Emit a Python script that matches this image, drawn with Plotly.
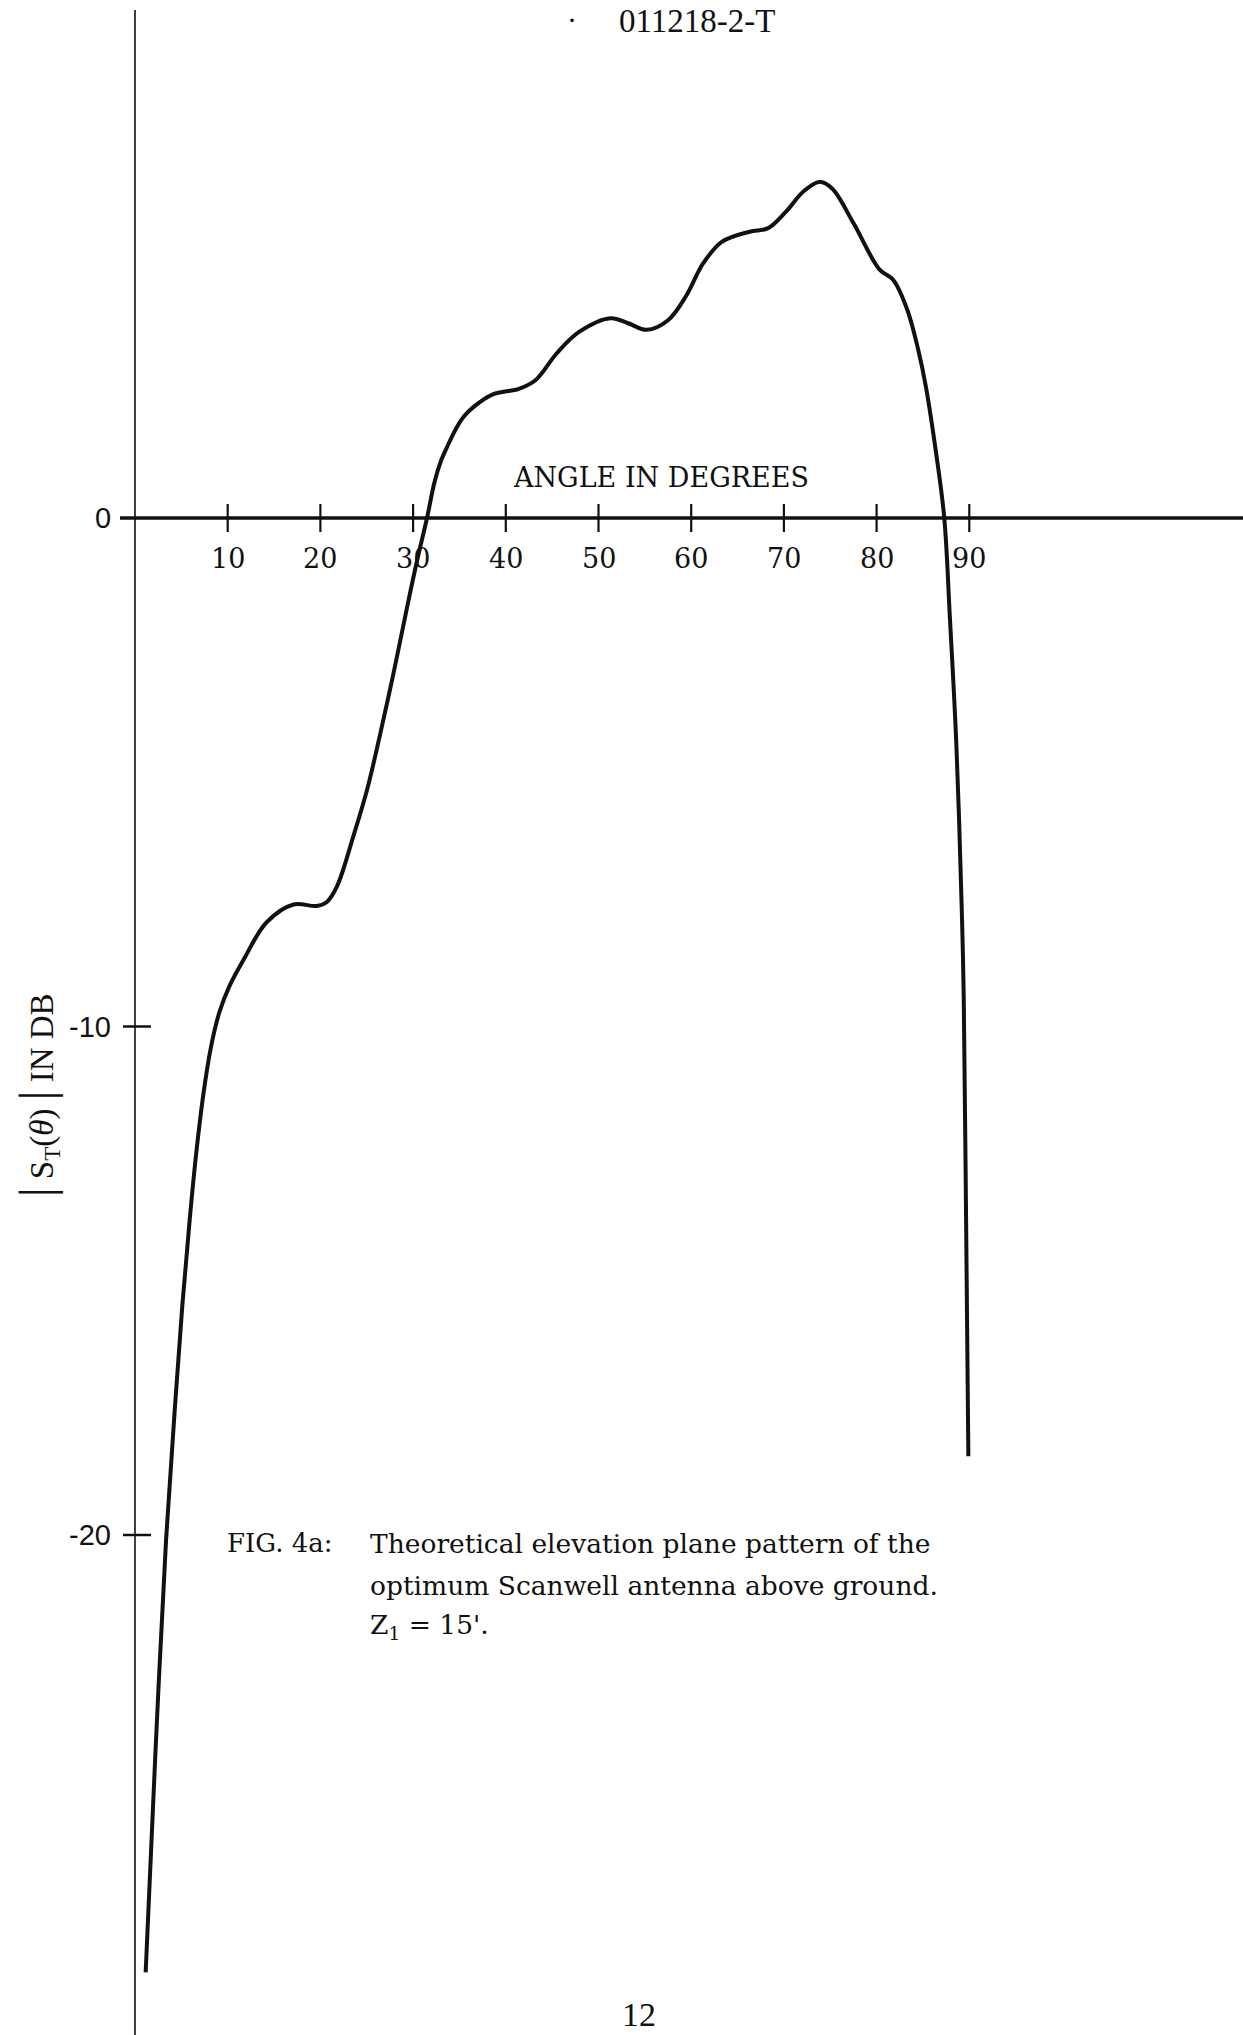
import plotly.graph_objects as go

# ---------------- data ----------------
angle_deg = [1.15, 2.2, 3.35, 4.3, 5.1, 5.9, 6.6, 7.4, 8.2, 9.1, 10.2,
             11.7, 14.2, 17.1, 19.6, 20.7, 21.8, 23.6, 25.0, 26.4, 27.9, 29.3,
             30.4, 31.5, 32.3, 33.0, 33.8, 34.7, 35.5, 36.5, 38.6, 41.4, 43.2, 45.5, 47.9,
             51.3, 53.2, 55.2, 57.5, 59.4, 61.3, 63.3, 66.3, 68.3, 70.2, 72.1,
             73.8, 75.2, 77.5, 80.3, 81.8, 83.3, 84.5, 85.3, 86.4, 87.3, 87.9,
             88.6, 89.2, 89.4, 89.6, 89.9]
level_db = [-28.6, -24.3, -20.1, -17.5, -15.5, -13.8, -12.5, -11.3, -10.4, -9.72, -9.2,
            -8.69, -7.95, -7.60, -7.63, -7.55, -7.24, -6.23, -5.37, -4.29, -3.04, -1.80,
            -0.86, 0.0, 0.7, 1.12, 1.45, 1.78, 2.0, 2.18, 2.43, 2.54, 2.71, 3.24, 3.66,
            3.93, 3.83, 3.70, 3.89, 4.35, 5.01, 5.43, 5.63, 5.70, 6.02, 6.42,
            6.61, 6.48, 5.80, 4.89, 4.68, 4.10, 3.30, 2.6, 1.3, 0.0, -1.94,
            -4.44, -7.78, -9.44, -12.78, -18.45]

x_tick_values = [10, 20, 30, 40, 50, 60, 70, 80, 90]
x_tick_labels = ["10", "20", "30", "40", "50", "60", "70", "80", "90"]
y_tick_values = [0, -10, -20]
y_tick_labels = ["0", "-10", "-20"]

header_text = "011218-2-T"
x_title = "ANGLE IN DEGREES"
y_title = "<span style='font-size:48px'>|</span> S<sub>T</sub>(<i>θ</i>) <span style='font-size:48px'>|</span> IN DB"
caption_tag = "FIG. 4a:"
caption_lines = ["Theoretical elevation plane pattern of the",
                 "optimum Scanwell antenna above ground.",
                 "Z<sub>1</sub> = 15'."]
page_number = "12"

# ---------------- geometry ----------------
W, H = 1243, 2035
X0_PX, PX_PER_DEG = 135.0, 9.27
Y0_PX, PX_PER_DB = 518.0, 50.85
x_range = [(0 - X0_PX) / PX_PER_DEG, (W - X0_PX) / PX_PER_DEG]
y_range = [(Y0_PX - H) / PX_PER_DB, (Y0_PX - 0) / PX_PER_DB]


def px2x(px):
    return (px - X0_PX) / PX_PER_DEG


def py2y(py):
    return (Y0_PX - py) / PX_PER_DB


SERIF = "Liberation Serif"
WIDE = "DejaVu Serif"
INK = "#111111"

fig = go.Figure()
fig.add_trace(go.Scatter(x=angle_deg, y=level_db, mode="lines",
                         line=dict(color=INK, width=4, shape="spline", smoothing=1.0),
                         hoverinfo="skip"))

shapes = []
# vertical axis (page-long line)
shapes.append(dict(type="line", xref="x", yref="y", x0=0, x1=0,
                   y0=y_range[0], y1=py2y(10), line=dict(color=INK, width=1.6)))
# horizontal zero axis
shapes.append(dict(type="line", xref="x", yref="y", x0=px2x(120), x1=x_range[1],
                   y0=0, y1=0, line=dict(color=INK, width=3.5)))
for v in x_tick_values:
    shapes.append(dict(type="line", xref="x", yref="y", x0=v, x1=v,
                       y0=-14 / PX_PER_DB, y1=14 / PX_PER_DB,
                       line=dict(color=INK, width=2.2)))
for v in y_tick_values[1:]:
    shapes.append(dict(type="line", xref="x", yref="y", x0=px2x(123), x1=px2x(151),
                       y0=v, y1=v, line=dict(color=INK, width=2.5)))

ann = []
for v, t in zip(x_tick_values, x_tick_labels):
    ann.append(dict(x=v, y=py2y(558), xref="x", yref="y", text=t, showarrow=False,
                    xanchor="center", yanchor="middle",
                    font=dict(family=WIDE, size=27, color=INK)))
for v, t in zip(y_tick_values, y_tick_labels):
    ann.append(dict(x=px2x(113), y=v, xref="x", yref="y", text=t, showarrow=False,
                    xanchor="right", yanchor="middle",
                    font=dict(family="Liberation Sans", size=29, color=INK)))
ann.append(dict(x=px2x(661), y=py2y(477), xref="x", yref="y", text=x_title,
                showarrow=False, xanchor="center", yanchor="middle",
                font=dict(family=WIDE, size=27, color=INK)))
ann.append(dict(x=px2x(37), y=py2y(1095), xref="x", yref="y", text=y_title,
                showarrow=False, textangle=-90, xanchor="center", yanchor="middle",
                font=dict(family=SERIF, size=33, color=INK)))
ann.append(dict(x=px2x(697), y=py2y(21), xref="x", yref="y", text=header_text,
                showarrow=False, xanchor="center", yanchor="middle",
                font=dict(family=SERIF, size=33, color=INK)))
ann.append(dict(x=px2x(572), y=py2y(19), xref="x", yref="y", text="·",
                showarrow=False, xanchor="center", yanchor="middle",
                font=dict(family=SERIF, size=30, color=INK)))
ann.append(dict(x=px2x(225), y=py2y(1543), xref="x", yref="y", text=caption_tag,
                showarrow=False, xanchor="left", yanchor="middle",
                font=dict(family=WIDE, size=26, color=INK)))
for line, py in zip(caption_lines, [1543, 1585, 1626]):
    ann.append(dict(x=px2x(368), y=py2y(py), xref="x", yref="y", text=line,
                    showarrow=False, xanchor="left", yanchor="middle",
                    font=dict(family=WIDE, size=26.5, color=INK)))
ann.append(dict(x=px2x(639), y=py2y(2014), xref="x", yref="y", text=page_number,
                showarrow=False, xanchor="center", yanchor="middle",
                font=dict(family=SERIF, size=34, color=INK)))

fig.update_layout(
    width=W, height=H, margin=dict(l=0, r=0, t=0, b=0, pad=0),
    paper_bgcolor="white", plot_bgcolor="white", showlegend=False,
    xaxis=dict(range=x_range, visible=False, fixedrange=True),
    yaxis=dict(range=y_range, visible=False, fixedrange=True),
    shapes=shapes, annotations=ann,
)

fig.write_html("out.html")
